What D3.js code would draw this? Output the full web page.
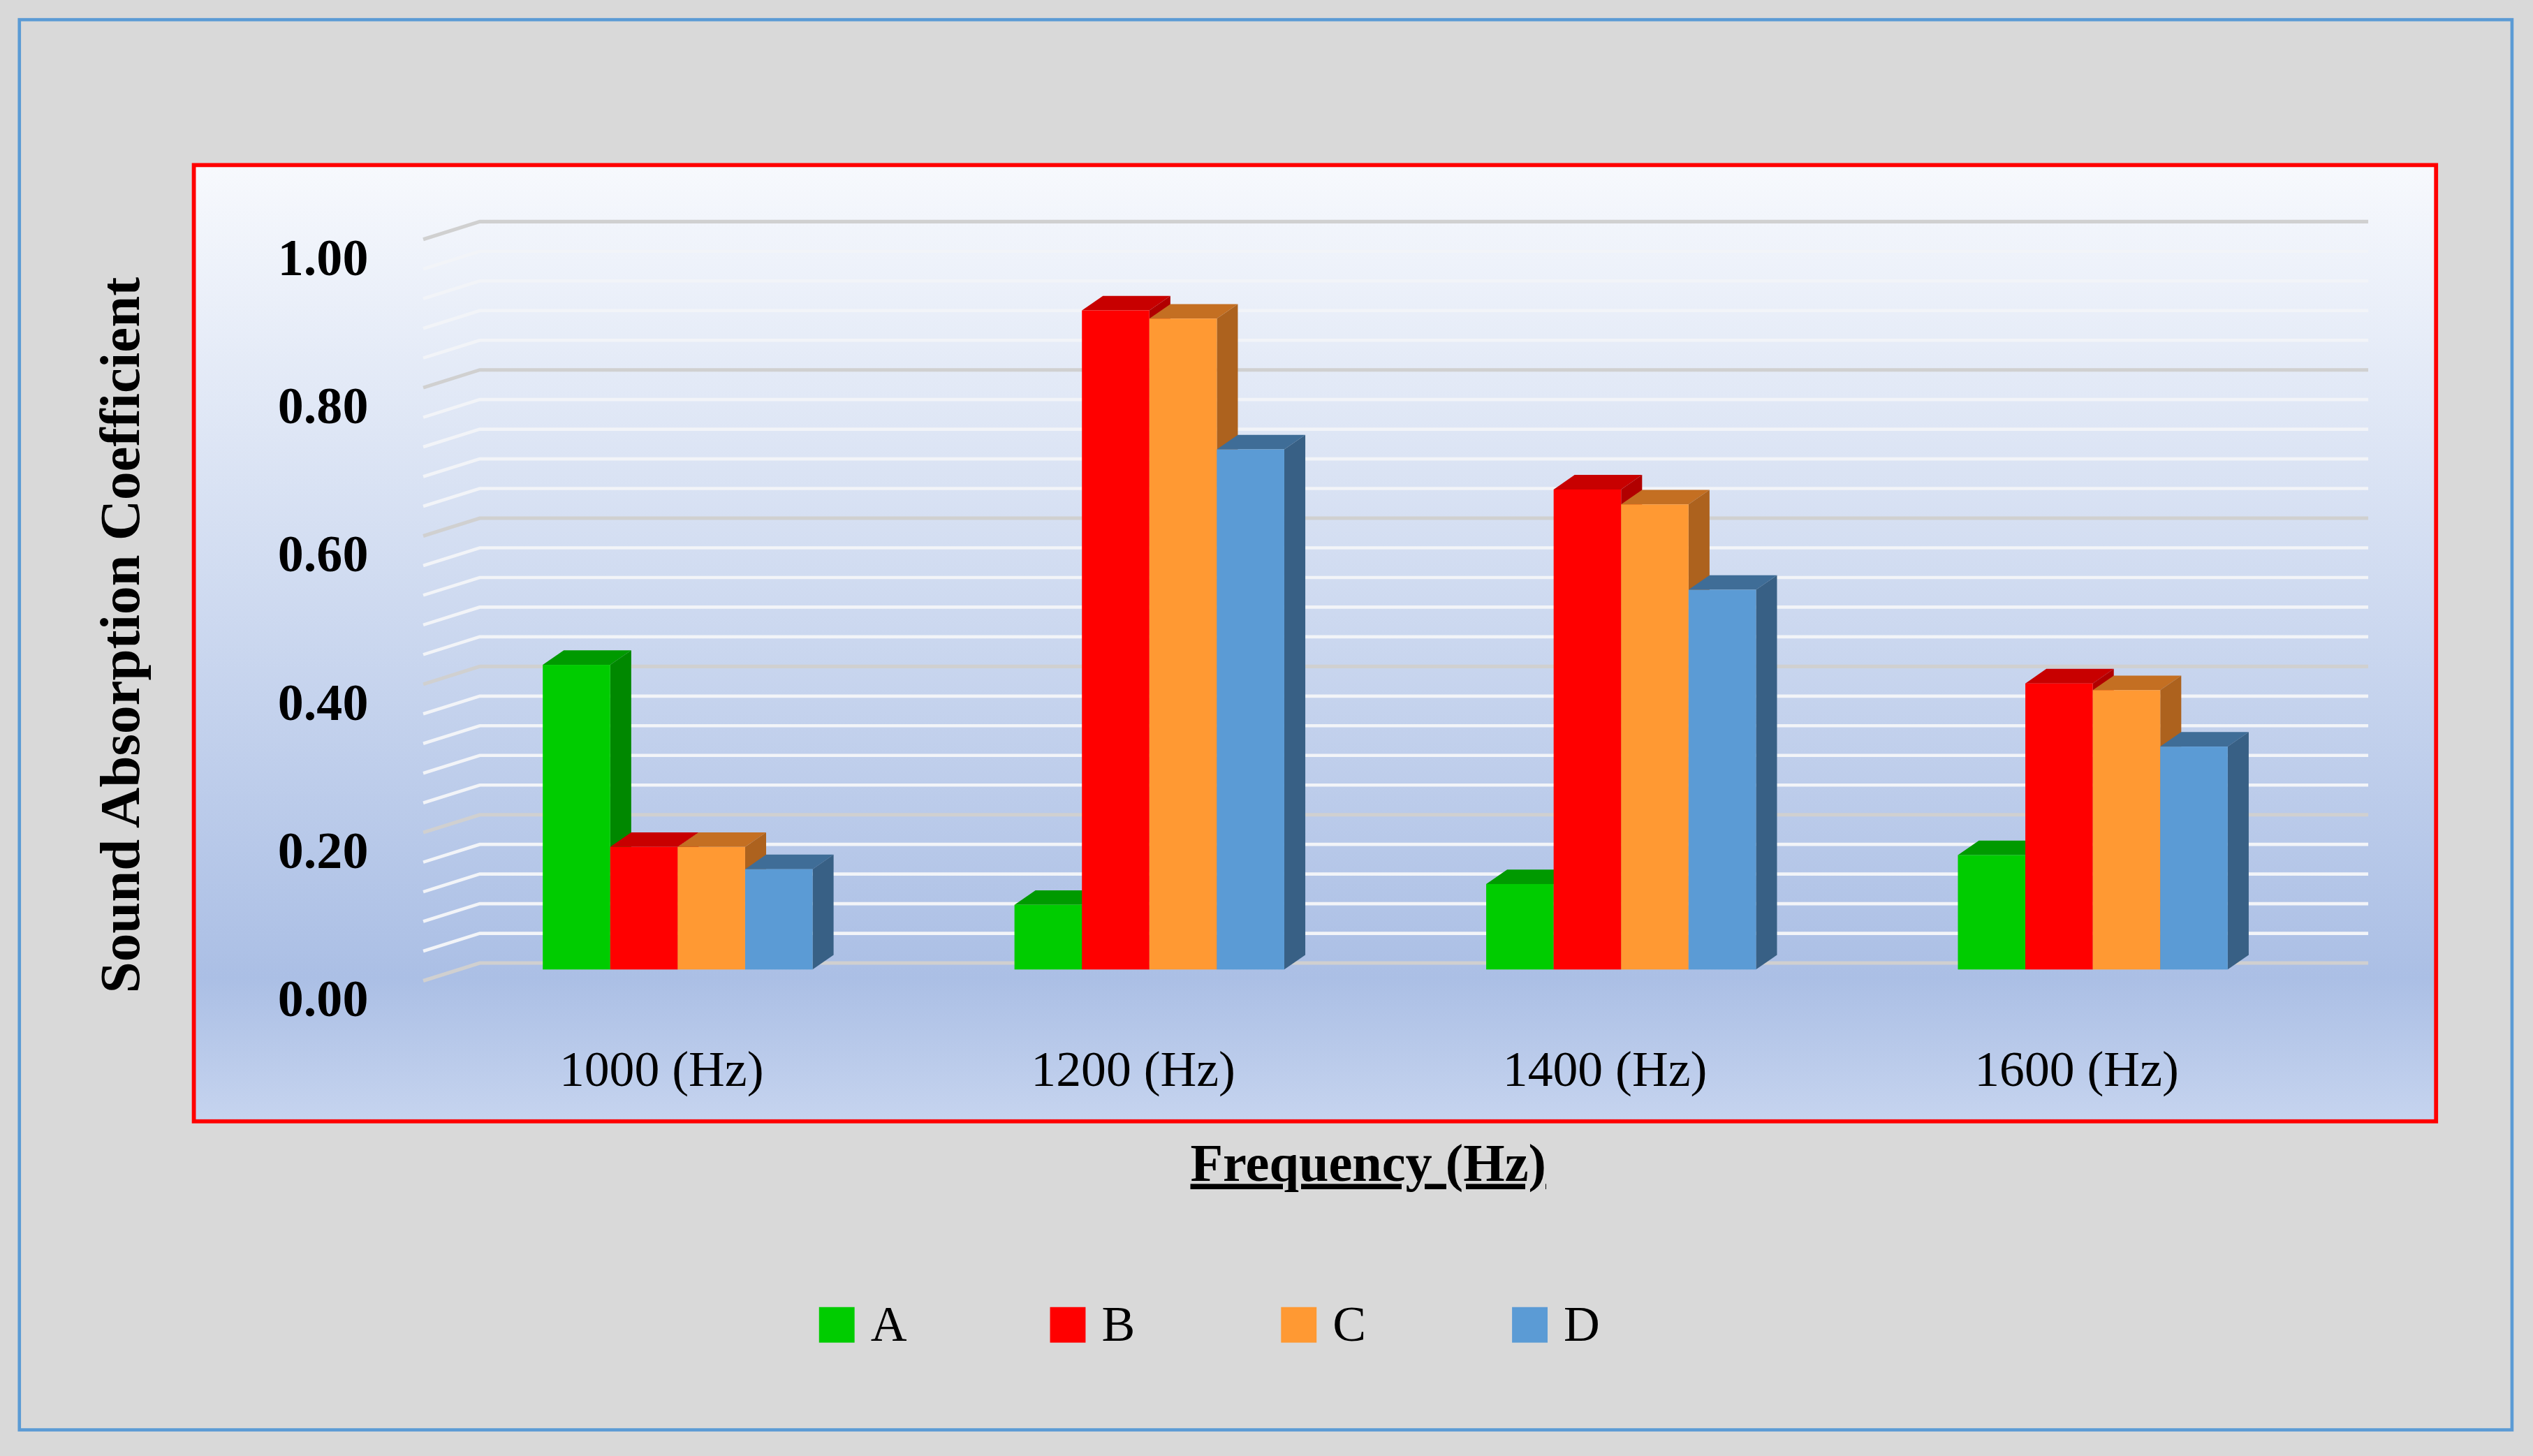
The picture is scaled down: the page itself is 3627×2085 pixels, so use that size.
<!DOCTYPE html>
<html><head><meta charset="utf-8">
<script src="https://cdn.jsdelivr.net/npm/d3@7"></script>
<style>body{margin:0;background:#d9d9d9}</style>
</head><body><div id="chart"></div>
<script>
// Data
const categories = ["1000 (Hz)", "1200 (Hz)", "1400 (Hz)", "1600 (Hz)"];
const seriesNames = ["A", "B", "C", "D"];
const seriesA = [0.41, 0.087, 0.115, 0.154];
const seriesB = [0.165, 0.887, 0.646, 0.385];
const seriesC = [0.165, 0.876, 0.626, 0.376];
const seriesD = [0.135, 0.70, 0.511, 0.30];
const yTicks = [0, 0.2, 0.4, 0.6, 0.8, 1.0];

const front = ["#00cc00", "#ff0000", "#ff9933", "#5b9bd5"];
const dark = ["#009a00", "#c80000", "#c46f22", "#3f6d97"];
const serif = "'Liberation Serif','DejaVu Serif',serif";

const svg = d3.select('#chart').append('svg')
  .attr('width', 3627).attr('height', 2085)
  .attr('viewBox', '0 0 1568 901');

// Gradient
const defs = svg.append('defs');
const grad = defs.append('linearGradient').attr('id', 'bg').attr('x1', 0).attr('y1', 0).attr('x2', 0).attr('y2', 1);
grad.append('stop').attr('offset', '0%').attr('stop-color', '#f7f9fd');
grad.append('stop').attr('offset', '85%').attr('stop-color', '#abbfe5');
grad.append('stop').attr('offset', '100%').attr('stop-color', '#c6d4ef');

svg.append('rect').attr('width', 1568).attr('height', 901).attr('fill', '#d9d9d9');
svg.append('rect').attr('x', 12).attr('y', 12).attr('width', 1543).attr('height', 873)
  .attr('fill', 'none').attr('stroke', '#5b9bd5').attr('stroke-width', 2);
svg.append('rect').attr('x', 120).attr('y', 102).attr('width', 1388).attr('height', 592)
  .attr('fill', 'url(#bg)').attr('stroke', '#ff0000').attr('stroke-width', 2.5);

// Scales
const yBack = d3.scaleLinear().domain([0, 1]).range([596, 137]);
const yBar = d3.scaleLinear().domain([0, 1]).range([600, 140]);
const x0 = d3.scaleBand().domain(categories).range([273.5, 1441.5]).paddingInner(0.428).paddingOuter(0.214);
const x1 = d3.scaleBand().domain(seriesNames).range([0, x0.bandwidth()]);
const ddx = 35, ddy = 11, bdx = 13, bdy = 9;

// Gridlines
const grid = svg.append('g');
d3.range(0, 26).map(i => i * 0.04).forEach(v => {
  const y = yBack(v);
  const major = Math.abs(v * 5 - Math.round(v * 5)) < 1e-6;
  grid.append('polyline')
    .attr('points', [[262, y + ddy], [297, y], [1466, y]].join(' '))
    .attr('fill', 'none')
    .attr('stroke', major ? '#d0d0d0' : '#f2f4f8')
    .attr('stroke-width', major ? 2.2 : 2);
});

// Y labels
svg.append('g').selectAll('text').data(yTicks).join('text')
  .attr('x', 228).attr('y', d => yBack(d) + ddy + 22)
  .attr('text-anchor', 'end').attr('font-family', serif).attr('font-weight', 'bold')
  .attr('font-size', 32).text(d => d.toFixed(2));

// Bars
const series = [seriesA, seriesB, seriesC, seriesD];
const bars = svg.append('g');
categories.forEach((c, ci) => {
  seriesNames.forEach((s, si) => {
    const v = series[si][ci];
    const x = x0(c) + x1(s), w = x1.bandwidth();
    const yt = yBar(v), yb = yBar(0);
    bars.append('path').attr('fill', dark[si])
      .attr('d', `M${x},${yt}L${x + bdx},${yt - bdy}L${x + w + bdx},${yt - bdy}L${x + w},${yt}Z`);
    bars.append('path').attr('fill', d3.color(dark[si]).darker(0.35))
      .attr('d', `M${x + w},${yt}L${x + w + bdx},${yt - bdy}L${x + w + bdx},${yb - bdy}L${x + w},${yb}Z`);
    bars.append('rect').attr('x', x).attr('y', yt).attr('width', w).attr('height', yb - yt)
      .attr('fill', front[si]);
  });
});

// Category labels
svg.append('g').selectAll('text').data(categories).join('text')
  .attr('x', d => x0(d) + x0.bandwidth() / 2 - 10).attr('y', 672)
  .attr('text-anchor', 'middle').attr('font-family', serif).attr('font-size', 31).text(d => d);

// Axis titles
svg.append('text').attr('x', 847).attr('y', 731).attr('text-anchor', 'middle')
  .attr('font-family', serif).attr('font-weight', 'bold').attr('font-size', 33)
  .attr('text-decoration', 'underline').text('Frequency (Hz)');
svg.append('text').attr('transform', 'translate(86,393) rotate(-90)').attr('text-anchor', 'middle')
  .attr('font-family', serif).attr('font-weight', 'bold').attr('font-size', 35)
  .text('Sound Absorption Coefficient');

// Legend
const legend = svg.append('g');
seriesNames.forEach((s, i) => {
  const lx = 507 + i * 143;
  legend.append('rect').attr('x', lx).attr('y', 809).attr('width', 22).attr('height', 22).attr('fill', front[i]);
  legend.append('text').attr('x', lx + 32).attr('y', 830).attr('font-family', serif)
    .attr('font-size', 31).text(s);
});
</script></body></html>
